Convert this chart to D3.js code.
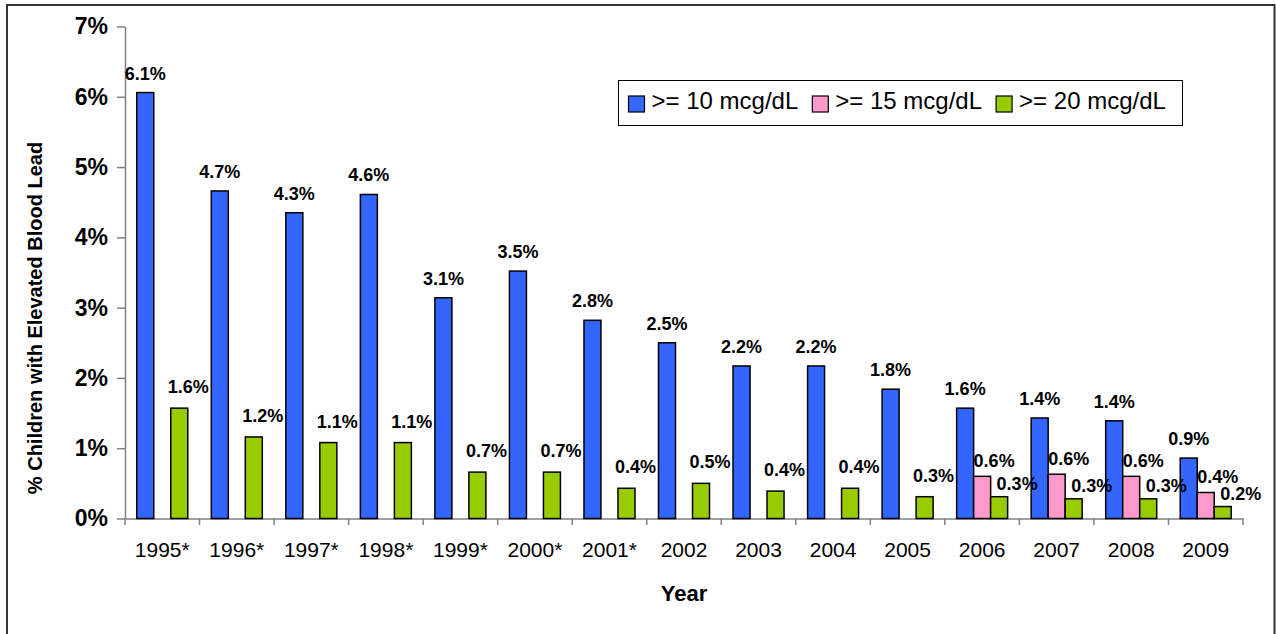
<!DOCTYPE html>
<html>
<head>
<meta charset="utf-8">
<script src="https://cdn.jsdelivr.net/npm/d3@7"></script>
<style>
    body { margin: 0; background: #fff; }
    svg { display: block; font-family: Arial, "Liberation Sans", sans-serif; }
</style>
</head>
<body>
<svg id="chart" width="1276" height="634"></svg>
<script>
// values, in percent
const years = ['1995*', '1996*', '1997*', '1998*', '1999*', '2000*', '2001*',
    '2002', '2003', '2004', '2005', '2006', '2007', '2008', '2009'];
const seriesNames = ['>= 10 mcg/dL', '>= 15 mcg/dL', '>= 20 mcg/dL'];
const over10 = [6.06, 4.66, 4.35, 4.61, 3.14, 3.52, 2.82, 2.50, 2.17, 2.17, 1.84, 1.57, 1.43, 1.39, 0.86];
const over15 = [null, null, null, null, null, null, null, null, null, null, null, 0.60, 0.63, 0.60, 0.37];
const over20 = [1.57, 1.16, 1.08, 1.08, 0.66, 0.66, 0.43, 0.50, 0.39, 0.43, 0.31, 0.31, 0.28, 0.28, 0.17];
const yTicks = [0, 1, 2, 3, 4, 5, 6, 7];

const colors = ['#3366FF', '#FF99CC', '#99CC00'];
const axisGray = '#808080';

class ChartPainter {
    constructor (svg) {
        this.svg = svg;
        this.y = d3.scaleLinear().domain([0, 7]).range([518.5, 26.5]);
        this.x = d3.scaleBand().domain(years).range([125, 1243]);
        this.sub = d3.scaleBand()
            .domain([0, 1, 2])
            .range([0, this.x.bandwidth()])
            .paddingInner(0)
            .paddingOuter(0.692);
        this.fmt = d3.format('.1f');
    }
    frame () {
        this.svg.append('rect')
            .attr('x', 7).attr('y', 5)
            .attr('width', 1267.5).attr('height', 640)
            .attr('fill', 'none')
            .attr('stroke', '#333')
            .attr('stroke-width', 2);
    }
    axes () {
        let y = this.y, x = this.x;

        let gy = this.svg.append('g')
            .attr('transform', 'translate(125,0)')
            .call(d3.axisLeft(y)
                .tickValues(yTicks)
                .tickFormat(d => d + '%')
                .tickSize(8)
                .tickSizeOuter(0)
                .tickPadding(9));
        gy.select('.domain').attr('stroke', axisGray).attr('stroke-width', 1.5);
        gy.selectAll('.tick line').attr('stroke', axisGray).attr('stroke-width', 1.5);
        gy.selectAll('.tick text')
            .attr('fill', '#000')
            .style('font-size', '23px')
            .style('font-weight', 'bold')
            .style('font-family', 'Arial, "Liberation Sans", sans-serif');

        let gx = this.svg.append('g')
            .attr('transform', `translate(0,${y(0)})`)
            .call(d3.axisBottom(x).tickSize(0).tickSizeOuter(0).tickPadding(23.5));
        gx.select('.domain').attr('stroke', axisGray).attr('stroke-width', 1.5);
        gx.selectAll('.tick text')
            .attr('fill', '#000')
            .style('font-size', '21px')
            .style('font-family', 'Arial, "Liberation Sans", sans-serif');

        // category boundary ticks
        let bounds = years.map(d => x(d)).concat([x.range()[1]]);
        gx.selectAll('line.bound')
            .data(bounds)
            .join('line')
            .attr('class', 'bound')
            .attr('x1', d => d).attr('x2', d => d)
            .attr('y1', 0).attr('y2', 6.5)
            .attr('stroke', axisGray)
            .attr('stroke-width', 1.5);

        this.svg.append('text')
            .attr('x', (x.range()[0] + x.range()[1]) / 2)
            .attr('y', 601)
            .attr('text-anchor', 'middle')
            .style('font-size', '22px')
            .style('font-weight', 'bold')
            .text('Year');

        this.svg.append('text')
            .attr('transform', 'translate(42,318) rotate(-90)')
            .attr('text-anchor', 'middle')
            .style('font-size', '20px')
            .style('font-weight', 'bold')
            .text('% Children with Elevated Blood Lead');
    }
    bars () {
        let y = this.y, x = this.x, sub = this.sub, fmt = this.fmt;
        let all = [over10, over15, over20];

        let points = [];
        all.forEach((values, s) => {
            values.forEach((v, i) => {
                if (v === null) return;
                points.push({ s: s, year: years[i], v: v, crowded: over15[i] !== null });
            });
        });

        this.svg.append('g')
            .selectAll('rect')
            .data(points)
            .join('rect')
            .attr('x', d => x(d.year) + sub(d.s))
            .attr('y', d => y(d.v))
            .attr('width', sub.bandwidth())
            .attr('height', d => y(0) - y(d.v))
            .attr('fill', d => colors[d.s])
            .attr('stroke', '#000')
            .attr('stroke-width', 1.5);

        // label nudges, the way the original labels sit
        let nudge = (d) => {
            if (d.s === 0) return { dx: 0, gap: 13 };
            if (d.s === 1) return { dx: 12, gap: 9 };
            return d.crowded ? { dx: 18, gap: 7 } : { dx: 9, gap: 15 };
        };

        this.svg.append('g')
            .selectAll('text')
            .data(points)
            .join('text')
            .attr('x', d => x(d.year) + sub(d.s) + sub.bandwidth() / 2 + nudge(d).dx)
            .attr('y', d => y(d.v) - nudge(d).gap)
            .attr('text-anchor', 'middle')
            .style('font-size', '18px')
            .style('font-weight', 'bold')
            .text(d => fmt(d.v) + '%');
    }
    legend () {
        let g = this.svg.append('g');
        g.append('rect')
            .attr('x', 618.5).attr('y', 80.5)
            .attr('width', 564).attr('height', 45)
            .attr('fill', '#fff')
            .attr('stroke', '#000')
            .attr('stroke-width', 1);

        let items = g.selectAll('g.item')
            .data(seriesNames)
            .join('g')
            .attr('class', 'item')
            .attr('transform', (d, i) => `translate(${628.5 + i * 183.8},96)`);
        items.append('rect')
            .attr('width', 16).attr('height', 16)
            .attr('fill', (d, i) => colors[i])
            .attr('stroke', '#000')
            .attr('stroke-width', 1.2);
        items.append('text')
            .attr('x', 23).attr('y', 13)
            .style('font-size', '24px')
            .text(d => d);
    }
    draw () {
        this.frame();
        this.axes();
        this.bars();
        this.legend();
        return this;
    }
}

new ChartPainter(d3.select('#chart')).draw();
</script>
</body>
</html>
